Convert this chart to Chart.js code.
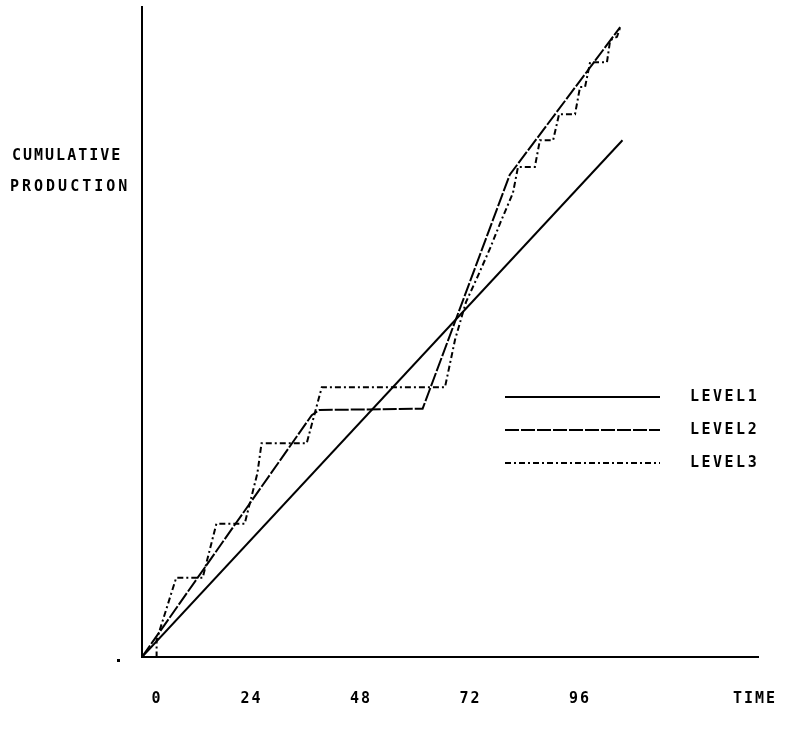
<!DOCTYPE html>
<html>
<head>
<meta charset="utf-8">
<script src="https://cdn.jsdelivr.net/npm/chart.js@4.4.0/dist/chart.umd.min.js"></script>
<style>
  html, body { margin: 0; background: #fff; }
  #wrap { width: 786px; height: 730px; }
</style>
</head>
<body>
<div id="wrap"><canvas id="chart"></canvas></div>
<script>
// values (time in hours, production in % of axis height)
const timeTicks = [0, 24, 48, 72, 96];
const seriesNames = ["LEVEL1", "LEVEL2", "LEVEL3"];

const level1Time = [0, 105.3];
const level1Output = [0, 79.5];

const level2Time = [0, 37.2, 38.9, 61.5, 80.6, 104.8];
const level2Output = [0, 37.2, 38.0, 38.2, 74.2, 96.9];

const level3Time = [0, 3.2, 3.2, 7.5, 13.3, 16.3, 22.5, 25.3, 26.2, 36.1, 39.4, 66.4, 68.6, 71.0,
  73.6, 76.3, 78.7, 81.3, 82.4, 86.1, 87.2, 90.1, 91.4, 94.9, 96.0, 97.1, 98.2, 101.9, 102.6, 104.1, 104.8];
const level3Output = [0, 0, 2.6, 12.2, 12.2, 20.5, 20.5, 28.3, 32.9, 32.9, 41.5, 41.5, 48.8, 54.6,
  58.6, 62.9, 67.1, 71.4, 75.4, 75.4, 79.5, 79.5, 83.5, 83.5, 87.7, 87.7, 91.5, 91.5, 94.9, 95.4, 96.9];

const dashes = [[], [14, 2], [6, 3, 2, 3]];
const FONT = "bold 15px 'DejaVu Sans Mono'";

function pts(xs, ys) {
  return xs.map((x, i) => ({ x: x, y: ys[i] }));
}

function spacedText(ctx, text, x, y, align, spacing) {
  ctx.save();
  ctx.font = FONT;
  ctx.letterSpacing = (spacing || 2) + "px";
  ctx.fillStyle = "#000";
  ctx.textBaseline = "middle";
  ctx.textAlign = align || "left";
  ctx.fillText(text, x, y);
  ctx.restore();
}

const annotate = {
  id: "annotate",
  afterDraw(chart) {
    const ctx = chart.ctx;
    const xs = chart.scales.x;

    // x tick labels, the 0 sits a bit right of the origin
    timeTicks.forEach(t => {
      let px = xs.getPixelForValue(t);
      if (t === 0) px += 15;
      spacedText(ctx, String(t), px, 699, "center");
    });
    spacedText(ctx, "TIME", 755, 699, "center");

    // y axis title
    spacedText(ctx, "CUMULATIVE", 12, 156);
    spacedText(ctx, "PRODUCTION", 10, 187, "left", 3);

    // stray dot left of the origin
    ctx.fillStyle = "#000";
    ctx.fillRect(117, 659, 3, 3);

    // legend
    const rows = [397, 430, 463];
    rows.forEach((y, i) => {
      ctx.save();
      ctx.strokeStyle = "#000";
      ctx.lineWidth = 2;
      ctx.setLineDash(dashes[i]);
      ctx.beginPath();
      ctx.moveTo(505, y);
      ctx.lineTo(660, y);
      ctx.stroke();
      ctx.restore();
      spacedText(ctx, seriesNames[i], 690, y, "left", 2.5);
    });
  }
};

function ds(label, data, i) {
  return {
    label: label,
    data: data,
    borderColor: "#000",
    borderWidth: 2,
    borderDash: dashes[i],
    pointRadius: 0,
    tension: 0,
    fill: false,
  };
}

new Chart(document.getElementById("chart"), {
  type: "line",
  data: {
    datasets: [
      ds(seriesNames[0], pts(level1Time, level1Output), 0),
      ds(seriesNames[1], pts(level2Time, level2Output), 1),
      ds(seriesNames[2], pts(level3Time, level3Output), 2),
    ],
  },
  options: {
    responsive: true,
    maintainAspectRatio: false,
    animation: false,
    layout: { padding: { left: 142, right: 28, top: 7, bottom: 73 } },
    plugins: { legend: { display: false }, tooltip: { enabled: false } },
    scales: {
      x: {
        type: "linear",
        min: 0,
        max: 135,
        ticks: { display: false },
        grid: { display: false, drawTicks: false },
        border: { display: true, color: "#000", width: 2 },
      },
      y: {
        min: 0,
        max: 100,
        ticks: { display: false },
        grid: { display: false, drawTicks: false },
        border: { display: true, color: "#000", width: 2 },
      },
    },
  },
  plugins: [annotate],
});
</script>
</body>
</html>
